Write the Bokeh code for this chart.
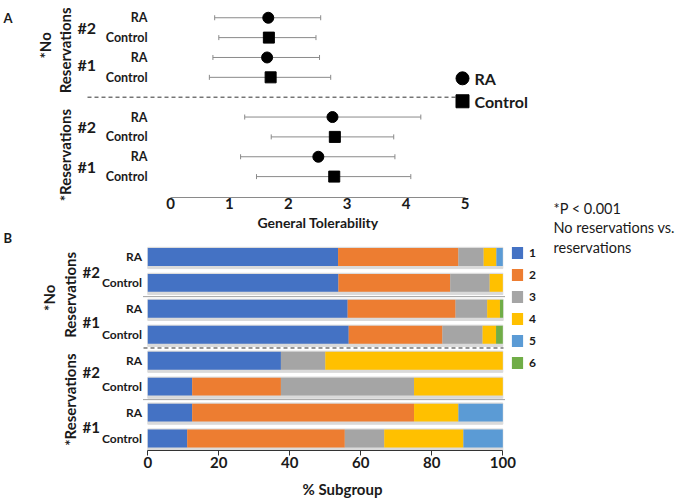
import math

from bokeh.plotting import figure
from bokeh.models import (Range1d, ColumnDataSource, Whisker, TeeHead,
                          Legend, LegendItem, FixedTicker, LinearAxis)
from bokeh.core.properties import value
from bokeh.embed import file_html
from bokeh.resources import INLINE

# ---------------------------------------------------------------- data
# Panel A: general tolerability, mean with range, rows listed top to bottom
tol_subgroup = ["RA", "Control", "RA", "Control", "RA", "Control", "RA", "Control"]
tol_slot = [0, 1, 2, 3, 5, 6, 7, 8]
tol_mean = [1.66, 1.67, 1.64, 1.70, 2.75, 2.79, 2.51, 2.78]
tol_low = [0.75, 0.82, 0.72, 0.66, 1.26, 1.71, 1.19, 1.46]
tol_high = [2.55, 2.47, 2.53, 2.72, 4.25, 3.79, 3.81, 4.08]
tol_ticks = [0, 1, 2, 3, 4, 5]

# Panel B: % of each subgroup giving each score (1-6), rows top to bottom
pct_subgroup = ["RA", "Control", "RA", "Control", "RA", "Control", "RA", "Control"]
pct_score1 = [53.6, 53.7, 56.3, 56.6, 37.5, 12.5, 12.5, 11.1]
pct_score2 = [33.9, 31.5, 30.4, 26.4, 0.0, 25.0, 62.5, 44.4]
pct_score3 = [7.1, 11.1, 8.9, 11.3, 12.5, 37.5, 0.0, 11.1]
pct_score4 = [3.6, 3.7, 3.6, 3.8, 50.0, 25.0, 12.5, 22.3]
pct_score5 = [1.8, 0.0, 0.0, 0.0, 0.0, 0.0, 12.5, 11.1]
pct_score6 = [0.0, 0.0, 0.9, 1.9, 0.0, 0.0, 0.0, 0.0]
score_labels = ["1", "2", "3", "4", "5", "6"]
pct_ticks = [0, 20, 40, 60, 80, 100]

round_labels = ["#2", "#1", "#2", "#1"]
group_labels = ["*No", "Reservations", "*Reservations"]
key_names = ["RA", "Control"]
footnote = ["*P < 0.001", "No reservations vs.", "reservations"]

# ---------------------------------------------------------------- style
FONT = "Lato"
INK = "#1a1a1a"
SCORE_COLORS = ["#4472C4", "#ED7D31", "#A5A5A5", "#FFC000", "#5B9BD5", "#70AD47"]
W, H, BOTTOM = 684, 500, 49
FRAME_BOTTOM = H - BOTTOM

# panel A scale: px per unit / px of 0, px per slot / px of slot 0
PX_A, X0_A = 58.9, 170.0
ROW_A, Y0_A = 19.9, 17.3
# panel B scale
PX_B, X0_B = 3.55, 147.3
ROW_B, Y0_B = 26.0, 257.0


def ax(px):
    return (px - X0_A) / PX_A


def ay(py):
    return (py - Y0_A) / ROW_A


def bx(px):
    return (px - X0_B) / PX_B


def by(py):
    return (py - Y0_B) / ROW_B


def bold(size):
    return dict(text_font=value(FONT), text_font_style=value("bold"),
                text_font_size=value(size), text_color=INK)


A = dict(x_range_name="tol", y_range_name="slots")

p = figure(width=W, height=H, output_backend="svg", toolbar_location=None,
           x_range=Range1d(bx(0), bx(W)),
           y_range=Range1d(by(FRAME_BOTTOM), by(0)),
           min_border_left=0, min_border_right=0, min_border_top=0,
           min_border_bottom=BOTTOM, y_axis_location=None,
           outline_line_color=None)
p.extra_x_ranges = {"tol": Range1d(ax(0), ax(W))}
p.extra_y_ranges = {"slots": Range1d(ay(FRAME_BOTTOM), ay(0))}
p.grid.visible = False


def style_axis(axis, tick_out, line_color, label, label_size, label_standoff):
    axis.major_tick_out = tick_out
    axis.major_tick_in = 0
    axis.minor_tick_out = 0
    axis.minor_tick_in = 0
    axis.axis_line_color = line_color
    axis.major_tick_line_color = line_color
    axis.major_label_text_font = FONT
    axis.major_label_text_font_style = "bold"
    axis.major_label_text_font_size = "15px"
    axis.major_label_text_color = INK
    axis.major_label_standoff = 1
    axis.axis_label = label
    axis.axis_label_text_font = FONT
    axis.axis_label_text_font_style = "bold"
    axis.axis_label_text_font_size = label_size
    axis.axis_label_text_color = INK
    axis.axis_label_standoff = label_standoff


# ================================================================ panel A
axis_a = LinearAxis(x_range_name="tol", y_range_name="slots",
                    fixed_location=ay(197.3),
                    ticker=FixedTicker(ticks=tol_ticks),
                    bounds=(tol_ticks[0], tol_ticks[-1]))
style_axis(axis_a, 0, "#8a8a8a", "General Tolerability", "14px", 1)
p.add_layout(axis_a, "below")

src_a = ColumnDataSource(dict(
    slot=tol_slot, mean=tol_mean, low=tol_low, high=tol_high, sub=tol_subgroup,
    marker=["circle" if s == "RA" else "square" for s in tol_subgroup],
))

p.add_layout(Whisker(source=src_a, base="slot", lower="low", upper="high",
                     dimension="width", line_color="#8a8a8a", line_width=1,
                     lower_head=TeeHead(size=5, line_color="#8a8a8a", line_width=1),
                     upper_head=TeeHead(size=5, line_color="#8a8a8a", line_width=1),
                     **A))
p.scatter(x="mean", y="slot", marker="marker", size=11, color="black",
          source=src_a, **A)

p.text(x=ax(147), y="slot", text="sub", source=src_a, text_align="right",
       text_baseline="middle", **bold("12.5px"), **A)
p.text(x=[ax(77)] * 4, y=[0.5, 2.35, 5.5, 7.5], text=round_labels,
       text_align="left", text_baseline="middle", **bold("16px"), **A)
p.text(x=[ax(44), ax(64), ax(64)], y=[ay(45), ay(50), ay(155)],
       text=group_labels, angle=math.pi / 2, text_align="center",
       text_baseline="middle", **bold("15px"), **A)
p.text(x=[ax(3)], y=[ay(18)], text=["A"], text_align="left",
       text_baseline="middle", **bold("13px"), **A)

# separator between the two groups
p.line(x=[ax(87), ax(465)], y=[4, 4], line_dash="4 3", line_color="#333333",
       line_width=1, **A)

# key for the marker shapes
p.scatter(x=[ax(462)] * 2, y=[ay(78), ay(101)], marker=["circle", "square"],
          size=13, color="black", **A)
p.text(x=[ax(474)] * 2, y=[ay(78), ay(101)], text=key_names,
       text_align="left", text_baseline="middle", **bold("16px"), **A)

# ================================================================ panel B
axis_b = p.xaxis[0]
axis_b.ticker = FixedTicker(ticks=pct_ticks)
axis_b.bounds = (pct_ticks[0], pct_ticks[-1])
style_axis(axis_b, 5, "#333333", "% Subgroup", "15px", 9)

rows_b = list(range(len(pct_subgroup)))
stack_cols = ["s1", "s2", "s3", "s4", "s5", "s6"]
src_b = ColumnDataSource(dict(
    row=rows_b, sub=pct_subgroup,
    s1=pct_score1, s2=pct_score2, s3=pct_score3,
    s4=pct_score4, s5=pct_score5, s6=pct_score6,
    total=[sum(v) for v in zip(pct_score1, pct_score2, pct_score3,
                               pct_score4, pct_score5, pct_score6)],
    shade=[r + 0.04 for r in rows_b],
))

# soft grey band behind each bar
p.hbar(y="shade", left=0, right="total", height=0.82, color="#dadada",
       source=src_b)
bars = p.hbar_stack(stack_cols, y="row", height=0.69, color=SCORE_COLORS,
                    line_color=None, source=src_b)

legend = Legend(items=[LegendItem(label=lbl, renderers=[r])
                       for lbl, r in zip(score_labels, bars)],
                location=(510, 80), orientation="vertical",
                glyph_width=14, glyph_height=15, label_height=15,
                label_width=10, spacing=7, padding=0, margin=0,
                label_standoff=5, border_line_color=None,
                background_fill_alpha=0,
                label_text_font=FONT, label_text_font_style="bold",
                label_text_font_size="12px", label_text_color=INK)
p.add_layout(legend)

p.text(x=bx(141.5), y="row", text="sub", source=src_b, text_align="right",
       text_baseline="middle", **bold("12px"))
p.text(x=[bx(82)] * 4, y=[0.6, 2.5, 4.45, 6.55], text=round_labels,
       text_align="left", text_baseline="middle", **bold("15px"))
p.text(x=[bx(48), bx(69), bx(69)], y=[by(298), by(295), by(400)],
       text=group_labels, angle=math.pi / 2, text_align="center",
       text_baseline="middle", **bold("15px"))
p.text(x=[bx(3)], y=[by(238)], text=["B"], text_align="left",
       text_baseline="middle", **bold("13px"))

# separators: dotted between rounds, dashed between groups
p.line(x=[bx(143), bx(504)], y=[1.53, 1.53], line_dash="1 1",
       line_color="#444444", line_width=1)
p.line(x=[bx(143), bx(504)], y=[5.5, 5.5], line_dash="1 1",
       line_color="#444444", line_width=1)
p.line(x=[bx(143), bx(503)], y=[3.51, 3.51], line_dash="4 3",
       line_color="#333333", line_width=1)

# significance note
p.text(x=[bx(553)] * 3, y=[by(208), by(228), by(248)], text=footnote,
       text_align="left", text_baseline="middle", text_font=value(FONT),
       text_font_size=value("14.5px"), text_color=INK)

open("out.html", "w").write(file_html(p, INLINE))
